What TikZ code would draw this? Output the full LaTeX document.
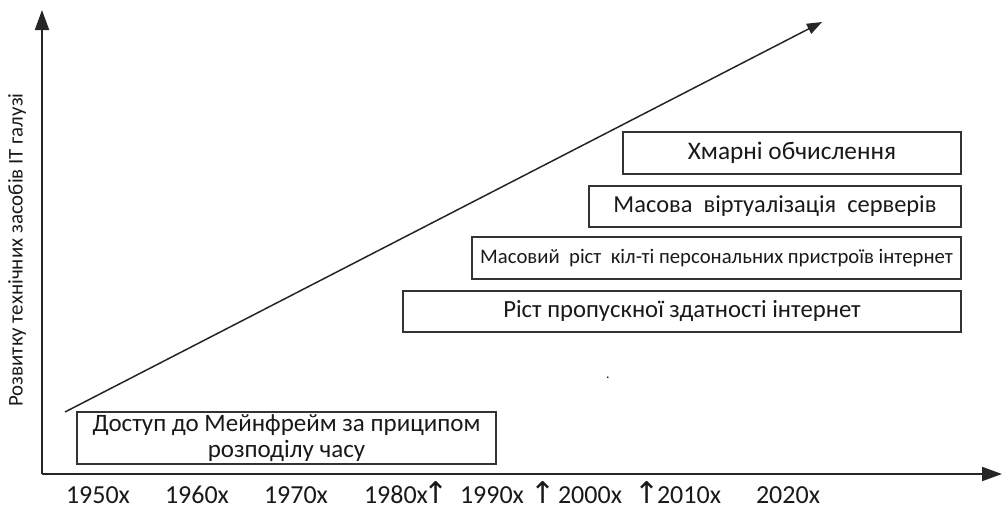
\documentclass[tikz,border=0pt]{standalone}
\usepackage{fontspec}
\setmainfont{Carlito}
\newfontfamily\arrowfont{DejaVu Sans}
\usetikzlibrary{arrows.meta}

\begin{document}
\begin{tikzpicture}[x=1pt,y=-1pt,
every node/.style = {
text           = black!90,
align          = center},
era box/.style = {
shape          = rectangle,
draw           = black!80,
line width     = 1.3pt,
inner sep      = 0pt},
axis line/.style  = {
line width     = 2pt,
black!85,
-{Triangle[length=20pt,width=14pt]}},
growth line/.style  = {
line width     = 1.5pt,
black!85,
-{Triangle[length=15pt,width=11pt]}},
year/.style = {
anchor=base,
inner sep=0.5pt,
font=\fontsize{26}{28}\selectfont},
uparrow/.style = {
anchor=base,
inner sep=0pt,
font=\arrowfont\fontsize{30}{32}\selectfont}
]
\useasboundingbox (0,0) rectangle (1003,506);
\coordinate (origin) at (42,474);
\coordinate (ytop) at (42,10);
\coordinate (xend) at (1002,474);
\coordinate (dstart) at (65,412);
\coordinate (dend) at (822,22);
%
\node[era box,minimum width=338pt,minimum height=42pt,font=\fontsize{25.3}{28}\selectfont]
  (cloud) at (792,153) {Хмарні обчислення};
\node[era box,minimum width=372pt,minimum height=41pt,font=\fontsize{24.4}{28}\selectfont]
  (virt) at (775,206.5) {Масова\ \ віртуалізація\ \ серверів};
\node[era box,minimum width=489pt,minimum height=42pt,font=\fontsize{20.7}{24}\selectfont]
  (pers) at (716.5,258) {Масовий\ \ ріст\ \ кіл-ті персональних пристроїв інтернет};
\node[era box,minimum width=558pt,minimum height=41pt,font=\fontsize{24.7}{28}\selectfont]
  (band) at (682,311.5) {Ріст пропускної здатності інтернет};
\node[era box,minimum width=419pt,minimum height=52pt,font=\fontsize{25}{26}\selectfont]
  (mainfr) at (286.5,438) {Доступ до Мейнфрейм за приципом\\розподілу часу};
\node[font=\fontsize{14}{14}\selectfont] (dot) at (608,378) {.};
%
\node[rotate=90,font=\fontsize{20.9}{22}\selectfont] (ylab) at (17,250)
  {Розвитку технічних засобів IT галузі};
%
\node[year] (y1950) at (98,503) {1950x};
\node[year] (y1960) at (197,503) {1960x};
\node[year] (y1970) at (296,503) {1970x};
\node[year] (y1980) at (396,503) {1980x};
\node[year] (y1990) at (492,503) {1990x};
\node[year] (y2000) at (590,503) {2000x};
\node[year] (y2010) at (689,503) {2010x};
\node[year] (y2020) at (788,503) {2020x};
\node[uparrow] (up1) at (436,503) {↑};
\node[uparrow] (up2) at (543,503) {↑};
\node[uparrow] (up3) at (647,503) {↑};
%
\draw[axis line] (origin) -- (ytop);
\draw[axis line] (origin) -- (xend);
\draw[growth line] (dstart) -- (dend);
%
\end{tikzpicture}
\end{document}
